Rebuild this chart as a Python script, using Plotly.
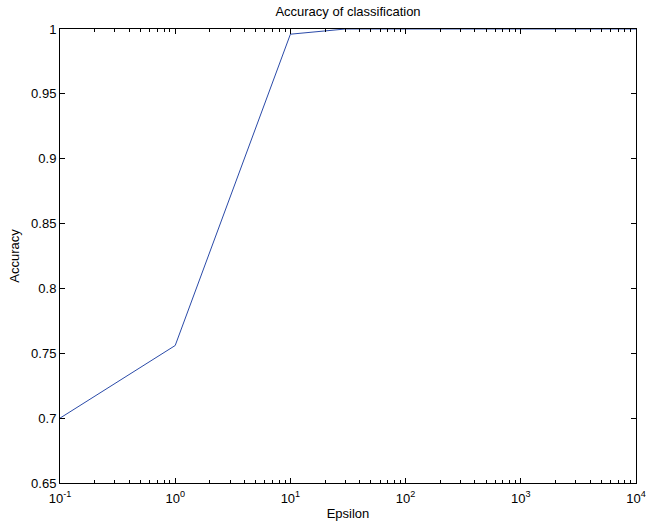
import plotly.graph_objects as go

# Classification accuracy versus epsilon
epsilon = [0.1, 1, 10, 30, 100, 1000, 10000]
accuracy = [0.700, 0.756, 0.996, 1.0, 1.0, 1.0, 1.0]

x_tick_vals = [0.1, 1, 10, 100, 1000, 10000]
x_tick_text = ["10<sup>-1</sup>", "10<sup>0</sup>", "10<sup>1</sup>",
               "10<sup>2</sup>", "10<sup>3</sup>", "10<sup>4</sup>"]
y_tick_vals = [0.65, 0.7, 0.75, 0.8, 0.85, 0.9, 0.95, 1.0]
y_tick_text = ["0.65", "0.7", "0.75", "0.8", "0.85", "0.9", "0.95", "1"]

# minor log ticks at 2..9 within each decade
x_minor_vals = [d * m for d in x_tick_vals[:-1] for m in range(2, 10)]

font_family = "Liberation Sans, Arial, Helvetica, sans-serif"

fig = go.Figure(
    go.Scatter(
        x=epsilon,
        y=accuracy,
        mode="lines",
        line=dict(color="#2a4aa8", width=1),
        cliponaxis=False,
        showlegend=False,
    )
)

axis_common = dict(
    showline=True,
    linecolor="black",
    linewidth=1,
    mirror="ticks",
    ticks="inside",
    ticklen=5,
    tickcolor="black",
    showgrid=False,
    zeroline=False,
    automargin=False,
    tickfont=dict(family=font_family, size=13, color="black"),
)

fig.update_xaxes(
    type="log",
    range=[-1, 4],
    tickvals=x_tick_vals,
    ticktext=x_tick_text,
    ticklabelstandoff=3,
    minor=dict(tickmode="array", tickvals=x_minor_vals, ticks="inside",
               ticklen=3, tickcolor="black", showgrid=False),
    title=dict(text="Epsilon", font=dict(family=font_family, size=13, color="black"), standoff=4),
    **axis_common,
)
fig.update_yaxes(
    range=[0.65, 1.0],
    tickvals=y_tick_vals,
    ticktext=y_tick_text,
    title=dict(text="Accuracy", font=dict(family=font_family, size=13, color="black"), standoff=8),
    **axis_common,
)

fig.update_layout(
    width=646,
    height=526,
    margin=dict(l=60, r=10, t=29, b=43),
    paper_bgcolor="white",
    plot_bgcolor="white",
    title=dict(
        text="Accuracy of classification",
        font=dict(family=font_family, size=13, color="black"),
        x=0.5,
        xanchor="center",
        xref="paper",
        y=1 - 11 / 526,
        yanchor="middle",
    ),
)

fig.write_html("out.html")
